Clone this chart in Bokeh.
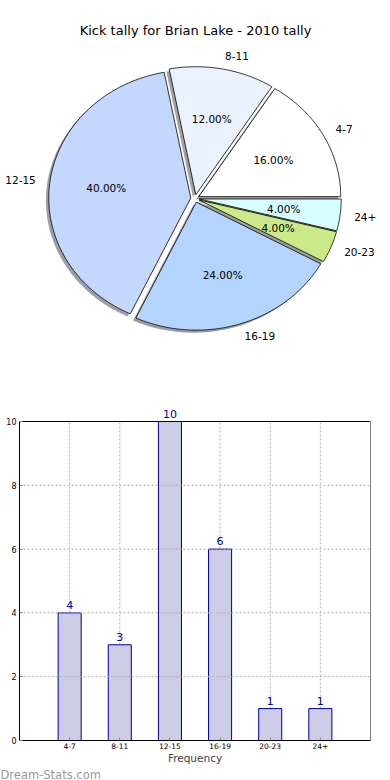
import numpy as np
from bokeh.plotting import figure
from bokeh.models import Range1d, Label, LabelSet, FixedTicker, ColumnDataSource, Title
from bokeh.layouts import column
from bokeh.embed import file_html
from bokeh.resources import INLINE
from bokeh.core.properties import value

# ---------------- data ----------------
categories = ["4-7", "8-11", "12-15", "16-19", "20-23", "24+"]
counts = [4, 3, 10, 6, 1, 1]
pie_colors = ["#ffffff", "#eaf1ff", "#c4d8ff", "#b3d4ff", "#cce98a", "#d8ffff"]
title_text = "Kick tally for Brian Lake - 2010 tally"
x_label = "Frequency"
y_ticks = [0, 2, 4, 6, 8, 10]
watermark = "Dream-Stats.com"

FONT = "DejaVu Sans"
W = 390

# ---------------- pie ----------------
PH = 380
RX, RY = 142, 128          # px per unit radius (elliptical look)
CX, CY = 194.5, PH - 198   # pie centre in px from left / bottom
EXPLODE = 0.03
SHADOW = 0.02

p1 = figure(width=W, height=PH, output_backend="svg", toolbar_location=None,
            x_range=Range1d(-CX / RX, (W - CX) / RX),
            y_range=Range1d(-CY / RY, (PH - CY) / RY),
            x_axis_location=None, y_axis_location=None, min_border=0, title=None)
p1.frame_align = False
p1.outline_line_color = None
p1.xgrid.visible = False
p1.ygrid.visible = False

vals = np.array(counts, dtype=float)
frac = vals / vals.sum()
edges = np.concatenate([[0.0], np.cumsum(frac)]) * 2 * np.pi


def shade(hexcol):
    h = hexcol.lstrip("#")
    r, g, b = (int(h[i:i + 2], 16) for i in (0, 2, 4))
    return "#%02x%02x%02x" % (int(r * 0.3), int(g * 0.3), int(b * 0.3))


wx, wy, sx, sy = [], [], [], []
lab_l, lab_r = {"x": [], "y": [], "t": []}, {"x": [], "y": [], "t": []}
pct = {"x": [], "y": [], "t": []}
for i in range(len(counts)):
    t1, t2 = edges[i], edges[i + 1]
    tm = 0.5 * (t1 + t2)
    ox, oy = EXPLODE * np.cos(tm), EXPLODE * np.sin(tm)
    th = np.linspace(t1, t2, max(6, int((t2 - t1) * 80)))
    xx = np.concatenate([[ox], ox + np.cos(th), [ox]])
    yy = np.concatenate([[oy], oy + np.sin(th), [oy]])
    wx.append(list(xx)); wy.append(list(yy))
    sx.append(list(xx - SHADOW)); sy.append(list(yy - SHADOW))
    lx = ox + 1.1 * np.cos(tm); ly = oy + 1.1 * np.sin(tm)
    d = lab_l if lx > 0 else lab_r
    d["x"].append(lx); d["y"].append(ly); d["t"].append(categories[i])
    pct["x"].append(ox + 0.6 * np.cos(tm)); pct["y"].append(oy + 0.6 * np.sin(tm))
    pct["t"].append("%.2f%%" % (frac[i] * 100))

p1.patches(sx, sy, fill_color=[shade(c) for c in pie_colors], fill_alpha=0.5, line_color=None)
p1.patches(wx, wy, fill_color=pie_colors, line_color="black", line_width=0.8)

lab_font = "10.5px"
for d, al in ((lab_l, "left"), (lab_r, "right"), (pct, "center")):
    p1.add_layout(LabelSet(x="x", y="y", text="t", source=ColumnDataSource(d),
                           text_align=al, text_baseline="middle",
                           text_font=value(FONT), text_font_size=lab_font,
                           text_color="black"))
p1.add_layout(Label(x=195, y=PH - 30, x_units="screen", y_units="screen", text=title_text,
                    text_align="center", text_baseline="middle",
                    text_font=FONT, text_font_size="13px", text_color="black"))

# ---------------- bars ----------------
BH = 400
FRAME_H = 360              # frame from figure top down to the x axis
PLOT_H = 319               # px for the 0..10 value span
y_top = y_ticks[-1]
idx = list(range(len(categories)))
p2 = figure(width=W, height=BH, output_backend="svg", toolbar_location=None,
            x_range=Range1d(-1, len(categories)),
            y_range=Range1d(0, y_top * FRAME_H / PLOT_H),
            min_border_left=19, min_border_right=20, min_border_top=0,
            min_border_bottom=BH - FRAME_H, title=None)
p2.frame_align = False
p2.outline_line_color = None
p2.xgrid.visible = False
p2.ygrid.visible = False

grid_kw = dict(line_color="#b0b0b0", line_dash="2 2", line_width=1)
p2.segment(x0=idx, y0=[0] * len(idx), x1=idx, y1=[y_top] * len(idx), **grid_kw)

src = ColumnDataSource(dict(x=idx, top=counts, lab=[str(c) for c in counts]))
p2.vbar(x="x", top="top", width=0.46, source=src, fill_color="#ccccE6",
        line_color="#000099", line_width=1)
p2.segment(x0=[-1] * len(y_ticks), y0=y_ticks, x1=[len(categories)] * len(y_ticks),
           y1=y_ticks, **grid_kw)
p2.quad(left=-1, right=len(categories), bottom=0, top=y_top, fill_color=None,
        line_color="black", line_width=1)
p2.add_layout(LabelSet(x="x", y="top", text="lab", source=src, text_align="center",
                       text_baseline="bottom", y_offset=4, text_font=value(FONT),
                       text_font_size="11px", text_color="#000099"))

p2.xaxis.ticker = FixedTicker(ticks=idx)
p2.xaxis.major_label_overrides = {i: c for i, c in enumerate(categories)}
p2.yaxis.ticker = FixedTicker(ticks=y_ticks)
p2.yaxis.bounds = (0, y_top)
for ax in (p2.xaxis[0], p2.yaxis[0]):
    ax.axis_line_color = "black"
    ax.major_tick_in = 3
    ax.major_tick_out = 0
    ax.major_tick_line_color = "#888888"
    ax.minor_tick_line_color = None
    ax.major_label_text_font = FONT
    ax.major_label_text_color = "black"
    ax.major_label_standoff = 3
p2.xaxis.major_label_standoff = 2
p2.xaxis.major_label_text_font_size = "7.5px"
p2.yaxis.major_label_text_font_size = "8px"
p2.xaxis.axis_label = x_label
p2.xaxis.axis_label_text_font = FONT
p2.xaxis.axis_label_text_font_size = "10.5px"
p2.xaxis.axis_label_text_font_style = "normal"
p2.xaxis.axis_label_standoff = 0

p2.add_layout(Title(text=watermark, align="left", offset=-19, standoff=-2,
                    text_font=FONT, text_font_size="11.5px", text_font_style="normal",
                    text_color="#9a9a9a"), "below")

layout = column(p1, p2)
open("out.html", "w").write(file_html(layout, INLINE))
